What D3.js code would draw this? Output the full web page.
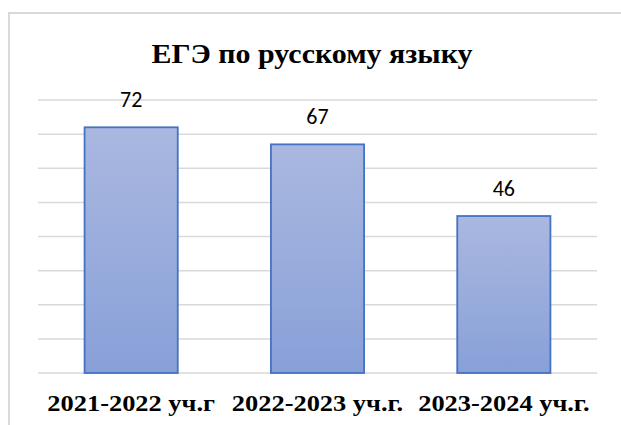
<!DOCTYPE html>
<html>
<head>
<meta charset="utf-8">
<script src="https://cdn.jsdelivr.net/npm/d3@7"></script>
<style>
  html, body { margin: 0; padding: 0; background: #fff; }
  svg { display: block; }
</style>
</head>
<body>
<svg></svg>
<script>
  const title = 'ЕГЭ по русскому языку';
  const categories = ['2021-2022 уч.г', '2022-2023 уч.г.', '2023-2024 уч.г.'];
  const values = [72, 67, 46];
  const yTicks = [0, 10, 20, 30, 40, 50, 60, 70, 80];

  const width = 621;
  const height = 425;
  const margin = { top: 100, right: 24, bottom: 52, left: 38 };
  const innerWidth = width - margin.left - margin.right;
  const innerHeight = height - margin.top - margin.bottom;
  const serif = '"Liberation Serif", "Times New Roman", serif';

  const svg = d3.select('svg')
      .attr('width', width)
      .attr('height', height);

  const grad = svg.append('defs').append('linearGradient')
      .attr('id', 'barGrad')
      .attr('x1', 0).attr('y1', 0).attr('x2', 0).attr('y2', 1);
  grad.append('stop').attr('offset', '0%').attr('stop-color', '#aab8e0');
  grad.append('stop').attr('offset', '100%').attr('stop-color', '#88a0d8');

  // chart frame (right and bottom sides fall outside the picture)
  svg.append('rect')
      .attr('x', 9)
      .attr('y', 13)
      .attr('width', width + 20)
      .attr('height', height + 20)
      .attr('fill', 'none')
      .attr('stroke', '#d9d9d9')
      .attr('stroke-width', 2);

  // the original picture is stretched sideways, so the serif texts are too
  svg.append('text')
      .attr('x', 312)
      .attr('y', 63)
      .attr('text-anchor', 'middle')
      .style('font-family', serif)
      .style('font-weight', 'bold')
      .style('font-size', '28px')
      .attr('fill', '#000')
      .attr('textLength', 321)
      .attr('lengthAdjust', 'spacingAndGlyphs')
      .text(title);

  const g = svg.append('g')
      .attr('transform', `translate(${margin.left},${margin.top})`);

  const x = d3.scaleBand()
      .domain(categories)
      .range([0, innerWidth])
      .paddingInner(0.5)
      .paddingOuter(0.25);

  const y = d3.scaleLinear()
      .domain([0, 80])
      .range([innerHeight, 0]);

  g.append('g')
    .selectAll('line').data(yTicks)
    .enter().append('line')
      .attr('x1', 0)
      .attr('x2', innerWidth)
      .attr('y1', d => y(d))
      .attr('y2', d => y(d))
      .attr('stroke', '#d9d9d9')
      .attr('stroke-width', 1.5);

  g.selectAll('rect.bar').data(values)
    .enter().append('rect')
      .attr('class', 'bar')
      .attr('x', (d, i) => x(categories[i]))
      .attr('y', d => y(d))
      .attr('width', x.bandwidth())
      .attr('height', d => innerHeight - y(d))
      .attr('fill', 'url(#barGrad)')
      .attr('stroke', '#4472c4')
      .attr('stroke-width', 1.8);

  g.selectAll('text.val').data(values)
    .enter().append('text')
      .attr('class', 'val')
      .attr('x', (d, i) => x(categories[i]) + x.bandwidth() / 2)
      .attr('y', d => y(d) - 20)
      .attr('text-anchor', 'middle')
      .style('font-family', 'Carlito, Calibri, "Liberation Sans", Arial, sans-serif')
      .style('font-size', '22px')
      .attr('fill', '#000')
      .text(d => d);

  const xAxis = d3.axisBottom(x).tickSize(0).tickPadding(21);
  g.append('g')
      .attr('transform', `translate(0,${innerHeight})`)
      .call(xAxis)
      .call(a => a.select('.domain').remove())
      .selectAll('text')
      .style('font-family', serif)
      .style('font-weight', 'bold')
      .style('font-size', '24px')
      .attr('fill', '#000')
      .attr('lengthAdjust', 'spacingAndGlyphs')
      .attr('textLength', function () { return this.getComputedTextLength() * 1.1; });
</script>
</body>
</html>
